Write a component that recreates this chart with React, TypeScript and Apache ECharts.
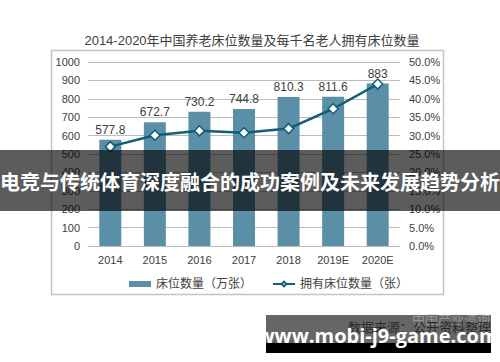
import React, { useEffect, useRef } from "react";
import * as echarts from "echarts";

const categories = ["2014", "2015", "2016", "2017", "2018", "2019E", "2020E"];
const bedCounts = [577.8, 672.7, 730.2, 744.8, 810.3, 811.6, 883];
const bedsPerThousand = [27.0, 30.1, 31.3, 30.8, 31.9, 37.3, 44.0];
const titleText = "2014-2020年中国养老床位数量及每千名老人拥有床位数量";
const seriesNames = ["床位数量（万张）", "拥有床位数量（张）"];
const bannerText = "电竞与传统体育深度融合的成功案例及未来发展趋势分析";
const sourceText = "数据来源：公开资料整理";
const watermarkText = "www.mobi-j9-game.com";

const FONT = "Liberation Sans, Arial, Noto Sans CJK SC, sans-serif";
const TXT = "#404040";

export default function App() {
  const ref = useRef<HTMLDivElement>(null);
  useEffect(() => {
    const chart = echarts.init(ref.current!, null, { renderer: "svg" });
    chart.setOption({
      animation: false,
      backgroundColor: "#ffffff",
      textStyle: { fontFamily: FONT },
      title: {
        text: titleText,
        left: 247,
        textAlign: "center",
        top: 29,
        textStyle: { fontSize: 13, fontWeight: "normal", color: TXT, fontFamily: FONT },
      },
      grid: { left: 88, right: 100, top: 62, bottom: 116 },
      legend: {
        left: 124,
        top: 273,
        itemGap: 20,
        itemWidth: 22,
        itemHeight: 6,
        textStyle: { fontSize: 12, color: TXT, fontFamily: FONT },
        data: [
          { name: seriesNames[0], icon: "rect" },
          { name: seriesNames[1] },
        ],
      },
      xAxis: {
        type: "category",
        data: categories,
        axisLine: { show: false },
        axisTick: { show: false },
        axisLabel: { color: TXT, fontSize: 11, margin: 8 },
      },
      yAxis: [
        {
          type: "value",
          min: 0,
          max: 1000,
          interval: 100,
          axisLine: { show: false },
          axisTick: { show: false },
          axisLabel: {
            color: TXT,
            fontSize: 11,
            margin: 8,
            formatter: (v: number) => String(v),
          },
          splitLine: { lineStyle: { color: "#bcbcbc", width: 1 } },
        },
        {
          type: "value",
          min: 0,
          max: 50,
          interval: 5,
          axisLine: { show: false },
          axisTick: { show: false },
          axisLabel: {
            color: TXT,
            fontSize: 11,
            margin: 9,
            formatter: (v: number) => v.toFixed(1) + "%",
          },
          splitLine: { show: false },
        },
      ],
      series: [
        {
          name: seriesNames[0],
          type: "bar",
          data: bedCounts,
          barWidth: 22,
          itemStyle: { color: "#5b8fa7" },
          label: { show: true, position: "top", color: TXT, fontSize: 12, distance: 4 },
        },
        {
          name: seriesNames[1],
          type: "line",
          yAxisIndex: 1,
          data: bedsPerThousand,
          symbol: "diamond",
          symbolSize: 10,
          lineStyle: { color: "#135d77", width: 2.5 },
          itemStyle: { color: "#ffffff", borderColor: "#135d77", borderWidth: 1.5 },
          z: 5,
        },
      ],
      graphic: [
        {
          type: "rect",
          shape: { x: 51.5, y: 50.5, width: 392, height: 244 },
          style: { fill: "none", stroke: "#c4c4c4", lineWidth: 1.5 },
          silent: true,
          z: 1,
        },
        {
          type: "rect",
          shape: { x: 0, y: 150, width: 500, height: 61 },
          style: { fill: "rgba(0,0,0,0.64)" },
          z: 100,
        },
        {
          type: "text",
          x: 250,
          y: 181,
          style: {
            text: bannerText,
            fill: "#ffffff",
            font: "bold 20px 'Noto Sans CJK SC', sans-serif",
            textAlign: "center",
            textVerticalAlign: "middle",
          },
          z: 101,
        },
        {
          type: "rect",
          shape: { x: 266, y: 315, width: 225, height: 28 },
          style: { fill: "#666666" },
          z: 100,
        },
        {
          type: "rect",
          shape: { x: 266, y: 343, width: 225, height: 10 },
          style: { fill: "#000000" },
          z: 100,
        },
        {
          type: "text",
          x: 412,
          y: 318,
          style: {
            text: "中国产业咨询",
            fill: "rgba(200,200,200,0.5)",
            font: "13px 'Noto Sans CJK SC', sans-serif",
            textAlign: "left",
            textVerticalAlign: "middle",
          },
          z: 101,
        },
        {
          type: "text",
          x: 348,
          y: 326,
          style: {
            text: sourceText,
            fill: "#2a2a2a",
            font: "13px 'Noto Sans CJK SC', sans-serif",
            textAlign: "left",
            textVerticalAlign: "middle",
          },
          z: 101,
        },
        {
          type: "text",
          x: 378,
          y: 335,
          style: {
            text: watermarkText,
            fill: "#ffffff",
            font: "bold 20px 'Open Sans', 'Noto Sans', sans-serif",
            textAlign: "center",
            textVerticalAlign: "middle",
          },
          z: 102,
        },
      ],
    });
    return () => chart.dispose();
  }, []);
  return (
    <div
      ref={ref}
      style={{ position: "absolute", left: 0, top: 0, width: 500, height: 362 }}
    />
  );
}
